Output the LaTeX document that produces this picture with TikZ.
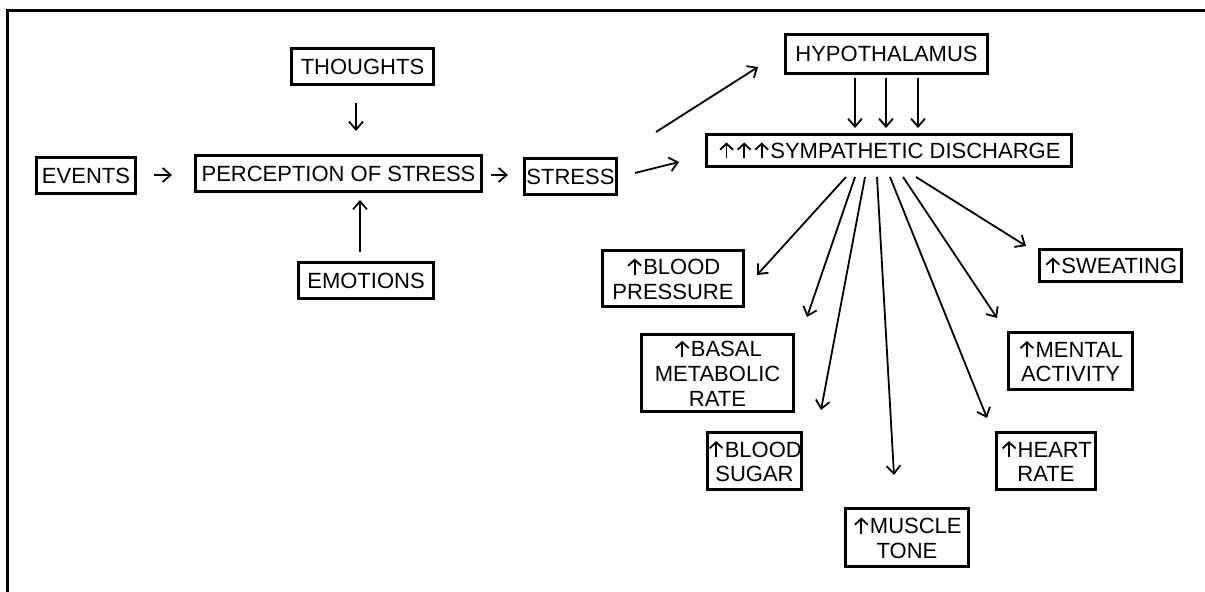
\documentclass[tikz,border=0pt]{standalone}
\usepackage{fontspec}
\setmainfont{Liberation Sans}
\usetikzlibrary{arrows.meta}
\newcommand\upar{\hspace{0.8pt}\tikz[baseline=0pt]\draw[line width=0.9pt,-{Straight Barb[length=3pt,width=6.5pt]}] (0pt,0pt) -- (0pt,8pt);\hspace{0.6pt}}
\begin{document}
\begin{tikzpicture}[x=0.5pt,y=-0.5pt,
  box/.style={draw, line width=1.4pt, inner sep=0pt, align=center,
    font=\fontsize{11}{12.3}\selectfont},
  arr/.style={line width=0.9pt, -{Straight Barb[length=4pt,width=7pt]}}]
\useasboundingbox (0,0) rectangle (1205,592);
\draw[line width=1.5pt] (7.5,592) -- (7.5,11) -- (1205,11);
% nodes
\node[box, minimum width=71pt, minimum height=18pt] (thoughts) at (362.5,66.5) {THOUGHTS};
\node[box, minimum width=49.5pt, minimum height=18pt] (events) at (86,175.5) {EVENTS};
\node[box, minimum width=143pt, minimum height=18pt] (perc) at (338.5,173.5) {PERCEPTION OF STRESS};
\node[box, minimum width=46pt, minimum height=18pt] (stress) at (570.5,176.5) {STRESS};
\node[box, minimum width=67.5pt, minimum height=18pt] (emotions) at (366,280.5) {EMOTIONS};
\node[box, minimum width=101pt, minimum height=19.5pt] (hypo) at (886.5,54) {HYPOTHALAMUS};
\node[box, minimum width=182.5pt, minimum height=16pt] (sd) at (889,150.5) {\upar\upar\upar SYMPATHETIC DISCHARGE};
\node[box, minimum width=71pt, minimum height=16pt] (sweat) at (1110.5,265.5) {\upar SWEATING};
\node[box, minimum width=70.5pt, minimum height=28pt] (bp) at (673,278.5) {\upar BLOOD\\PRESSURE};
\node[box, minimum width=76pt, minimum height=38.5pt] (basal) at (717.5,373) {\upar BASAL\\METABOLIC\\RATE};
\node[box, minimum width=46pt, minimum height=28.5pt] (sugar) at (754.5,461) {\upar BLOOD\\SUGAR};
\node[box, minimum width=61.5pt, minimum height=29pt] (muscle) at (907,537.5) {\upar MUSCLE\\TONE};
\node[box, minimum width=49.5pt, minimum height=28.5pt] (heart) at (1046,461) {\upar HEART\\RATE};
\node[box, minimum width=62pt, minimum height=28.5pt] (mental) at (1070.5,361) {\upar MENTAL\\ACTIVITY};
% connector ends
\coordinate (ev-s) at (154,175); \coordinate (ev-e) at (172,175);
\coordinate (pe-s) at (491,175); \coordinate (pe-e) at (508,175);
\coordinate (th-s) at (356,103); \coordinate (th-e) at (356,131);
\coordinate (em-s) at (360,252); \coordinate (em-e) at (360,200);
\coordinate (sh-s) at (656,132); \coordinate (sh-e) at (758,67);
\coordinate (ss-s) at (635,173); \coordinate (ss-e) at (679,162);
\coordinate (h1-s) at (855,78); \coordinate (h1-e) at (855,128);
\coordinate (h2-s) at (886,78); \coordinate (h2-e) at (886,128);
\coordinate (h3-s) at (918,78); \coordinate (h3-e) at (918,128);
\coordinate (f1) at (846,177); \coordinate (bp-e) at (757,275);
\coordinate (f2) at (855,177); \coordinate (basal-e) at (807,317);
\coordinate (f3) at (865,177); \coordinate (sugar-e) at (821,410);
\coordinate (f4) at (877,177); \coordinate (muscle-e) at (894,475);
\coordinate (f5) at (890,177); \coordinate (heart-e) at (987,418);
\coordinate (f6) at (903,177); \coordinate (mental-e) at (997,318);
\coordinate (f7) at (916,177); \coordinate (sweat-e) at (1026,246);
% connectors
\draw[arr] (ev-s) -- (ev-e);
\draw[arr] (pe-s) -- (pe-e);
\draw[arr] (th-s) -- (th-e);
\draw[arr] (em-s) -- (em-e);
\draw[arr] (sh-s) -- (sh-e);
\draw[arr] (ss-s) -- (ss-e);
\draw[arr] (h1-s) -- (h1-e);
\draw[arr] (h2-s) -- (h2-e);
\draw[arr] (h3-s) -- (h3-e);
\draw[arr] (f1) -- (bp-e);
\draw[arr] (f2) -- (basal-e);
\draw[arr] (f3) -- (sugar-e);
\draw[arr] (f4) -- (muscle-e);
\draw[arr] (f5) -- (heart-e);
\draw[arr] (f6) -- (mental-e);
\draw[arr] (f7) -- (sweat-e);
\end{tikzpicture}
\end{document}
